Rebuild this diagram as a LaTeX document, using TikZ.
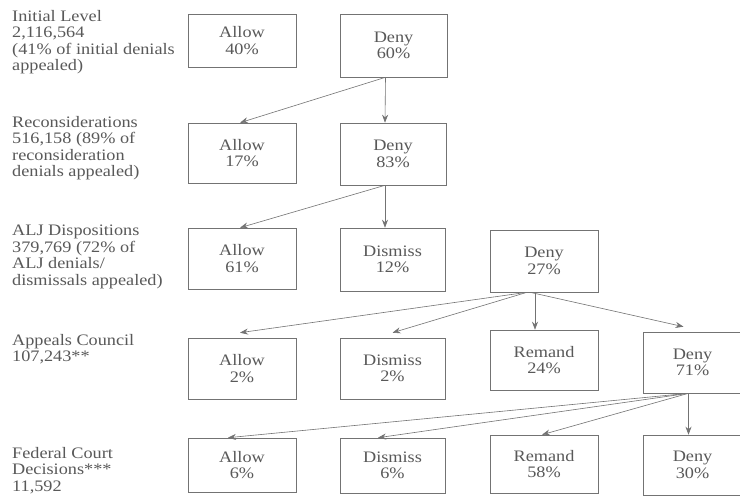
\documentclass[tikz,border=0pt]{standalone}
\usepackage{fontspec}
\setmainfont{Liberation Serif}[FakeStretch=1.14]
\usetikzlibrary{arrows.meta}
\definecolor{ink}{gray}{0.35}
\definecolor{edge}{gray}{0.45}
\begin{document}
\begin{tikzpicture}[x=1bp,y=-1bp,
  every node/.style={font=\fontsize{16bp}{16.5bp}\selectfont, text=ink},
  box/.style={draw=edge, line width=0.6bp, align=center, inner sep=0pt},
  lbl/.style={align=left, anchor=north west, inner sep=0pt},
  arr/.style={draw=edge, line width=0.6bp, -{Stealth[length=8bp,width=6bp]}}]
\useasboundingbox[fill=white] (0,0) rectangle (740,497);
% labels
\node[lbl] (L1) at (12,10) {Initial Level\\2,116,564\\(41\% of initial denials\\appealed)};
\node[lbl] (L2) at (12,116) {Reconsiderations\\516,158 (89\% of\\reconsideration\\denials appealed)};
\node[lbl] (L3) at (12,225) {ALJ Dispositions\\379,769 (72\% of\\ALJ denials/\\dismissals appealed)};
\node[lbl] (L4) at (12,334) {Appeals Council\\107,243**};
\node[lbl] (L5) at (12,447) {Federal Court\\Decisions***\\11,592};
% row 1
\node[box, minimum width=108bp, minimum height=53bp] (A1) at (242,40.5) {Allow\\40\%};
\node[box, minimum width=107bp, minimum height=63bp] (D1) at (393.5,45.5) {Deny\\60\%};
% row 2
\node[box, minimum width=108bp, minimum height=60bp] (A2) at (242,153) {Allow\\17\%};
\node[box, minimum width=106bp, minimum height=62bp] (D2) at (393,154) {Deny\\83\%};
% row 3
\node[box, minimum width=108bp, minimum height=61bp] (A3) at (242,258.5) {Allow\\61\%};
\node[box, minimum width=105bp, minimum height=63bp] (S3) at (392.5,259.5) {Dismiss\\12\%};
\node[box, minimum width=108bp, minimum height=62bp] (D3) at (544,261) {Deny\\27\%};
% row 4
\node[box, minimum width=108bp, minimum height=61bp] (A4) at (242,368.5) {Allow\\2\%};
\node[box, minimum width=105bp, minimum height=61bp] (S4) at (392.5,368.5) {Dismiss\\2\%};
\node[box, minimum width=108bp, minimum height=60bp] (R4) at (544,360) {Remand\\24\%};
\node[box, minimum width=99bp, minimum height=61bp] (D4) at (692.5,362.5) {Deny\\71\%};
% row 5
\node[box, minimum width=108bp, minimum height=54bp] (A5) at (242,465) {Allow\\6\%};
\node[box, minimum width=105bp, minimum height=55bp] (S5) at (392.5,465.5) {Dismiss\\6\%};
\node[box, minimum width=108bp, minimum height=58bp] (R5) at (544,464) {Remand\\58\%};
\node[box, minimum width=99bp, minimum height=60bp] (D5) at (692.5,465) {Deny\\30\%};
% connectors
\draw[arr] ([xshift=-8bp]D1.south) -- ([xshift=-2bp]A2.north);
\draw[arr] ([xshift=-8bp]D1.south) -- ([xshift=-8bp]D2.north);
\draw[arr] ([xshift=-8bp]D2.south) -- ([xshift=-2bp]A3.north);
\draw[arr] ([xshift=-8bp]D2.south) -- ([xshift=-7.5bp]S3.north);
\draw[arr] ([xshift=-17bp]D3.south) -- ([xshift=-2bp,yshift=5bp]A4.north);
\draw[arr] ([xshift=-17bp]D3.south) -- ([yshift=5bp]S4.north);
\draw[arr] ([xshift=-9bp]D3.south) -- ([xshift=-9bp]R4.north);
\draw[arr] ([xshift=-14bp]D3.south) -- ([xshift=-9bp,yshift=5bp]D4.north);
\draw[arr] ([xshift=-4bp]D4.south) -- ([xshift=-14bp]A5.north);
\draw[arr] ([xshift=-4bp]D4.south) -- ([xshift=-14.5bp]S5.north);
\draw[arr] ([xshift=-4bp]D4.south) -- ([xshift=-2bp]R5.north);
\draw[arr] ([xshift=-4bp]D4.south) -- ([xshift=-4bp]D5.north);
\end{tikzpicture}
\end{document}
